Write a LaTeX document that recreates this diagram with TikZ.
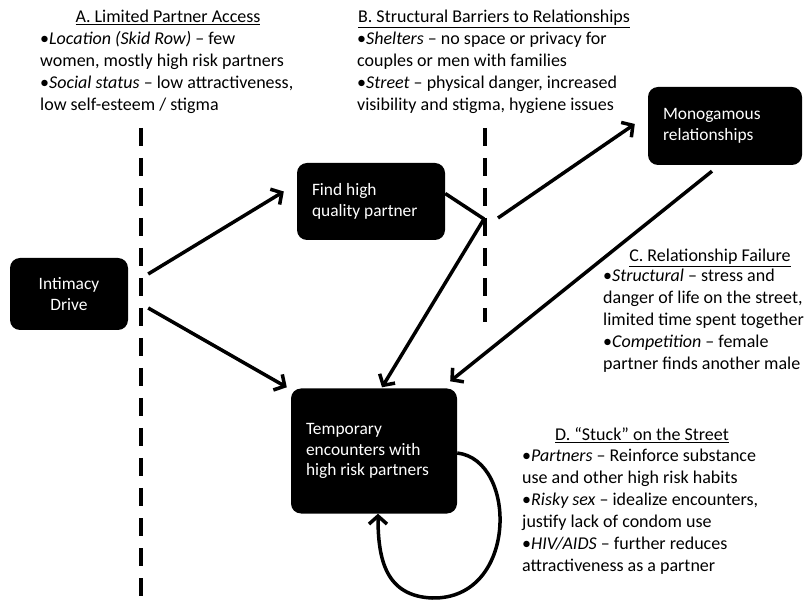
\documentclass[tikz,border=0pt]{standalone}
\usepackage{fontspec}
\setmainfont{Carlito}
\usepackage{tikz}
\usetikzlibrary{arrows.meta}

\begin{document}
\begin{tikzpicture}[
    x=1pt, y=-1pt,
    font=\fontsize{18}{22}\selectfont,
    box/.style={fill=black, text=white, rounded corners=10pt, inner xsep=15pt, inner ysep=0pt,
        align=flush left, font=\fontsize{17.4}{20.5}\selectfont},
    note/.style={anchor=base west, align=left, inner sep=0pt},
    head/.style={anchor=base, inner sep=0pt},
    barrier/.style={line width=4.5pt, dash pattern=on 18pt off 12pt},
    link/.style={line width=3.5pt, -{Straight Barb[length=8pt,width=18pt]}}
    ]
    \useasboundingbox (0,0) rectangle (809,601);

    % Barriers
    \draw[barrier] (141,128) -- (141,597);
    \draw[barrier] (485,128) -- (485,322);
    \coordinate (barrierB) at (484,219);
    \coordinate (pastB) at (498,218);

    % Texts (base = last line)
    \node[head] (headA) at (168,22.5) {\underline{A. Limited Partner Access}};
    \node[note] (textA) at (40,111) {•\textit{Location (Skid Row)} – few\\women, mostly high risk partners\\•\textit{Social status} – low attractiveness,\\low self-esteem / stigma};
    \node[head] (headB) at (494,22.5) {\underline{B. Structural Barriers to Relationships}};
    \node[note] (textB) at (357,111) {•\textit{Shelters} – no space or privacy for\\couples or men with families\\•\textit{Street} – physical danger, increased\\visibility and stigma, hygiene issues};
    \node[head] (headC) at (710,262) {\underline{C. Relationship Failure}};
    \node[note] (textC) at (603,370) {•\textit{Structural} – stress and\\danger of life on the street,\\limited time spent together\\•\textit{Competition} – female\\partner finds another male};
    \node[head] (headD) at (642,441) {\underline{D. “Stuck” on the Street}};
    \node[note] (textD) at (522,571) {•\textit{Partners} – Reinforce substance\\use and other high risk habits\\•\textit{Risky sex} – idealize encounters,\\justify lack of condom use\\•\textit{HIV/AIDS} – further reduces\\attractiveness as a partner};

    % Boxes
    \node[box, align=flush center, text width=88pt, minimum height=72pt] (intim) at (69,294) {Intimacy\\Drive};
    \node[box, text width=118pt, minimum height=77pt] (find) at (371,201.5) {Find high\\quality partner};
    \node[box, text width=124pt, minimum height=78pt] (mono) at (725,126) {Monogamous\\relationships};
    \node[box, text width=136pt, minimum height=125pt] (temp) at (374,451) {Temporary\\encounters with\\high risk partners};

    % Arrows
    \draw[link] ([xshift=20pt,yshift=20pt]intim.east) -- ([xshift=-13pt,yshift=10pt]find.west);
    \draw[link] ([xshift=20pt,yshift=-14pt]intim.east) -- ([xshift=-4pt,yshift=1pt]temp.north west);
    \draw[line width=3.5pt] ([yshift=8pt]find.east) -- (barrierB);
    \draw[link] (barrierB) -- ([xshift=8pt,yshift=1pt]temp.north);
    \draw[link] (pastB) -- ([xshift=-13pt,yshift=2pt]mono.west);
    \draw[link] ([xshift=-13pt,yshift=-6pt]mono.south) -- ([xshift=-7pt,yshift=7pt]temp.north east);
    \draw[link] ([yshift=-2pt]temp.east) .. controls (518,460) and (518,600) .. (432,598)
        .. controls (386,596) and (378,560) .. ([xshift=4pt]temp.south);

\end{tikzpicture}
\end{document}
